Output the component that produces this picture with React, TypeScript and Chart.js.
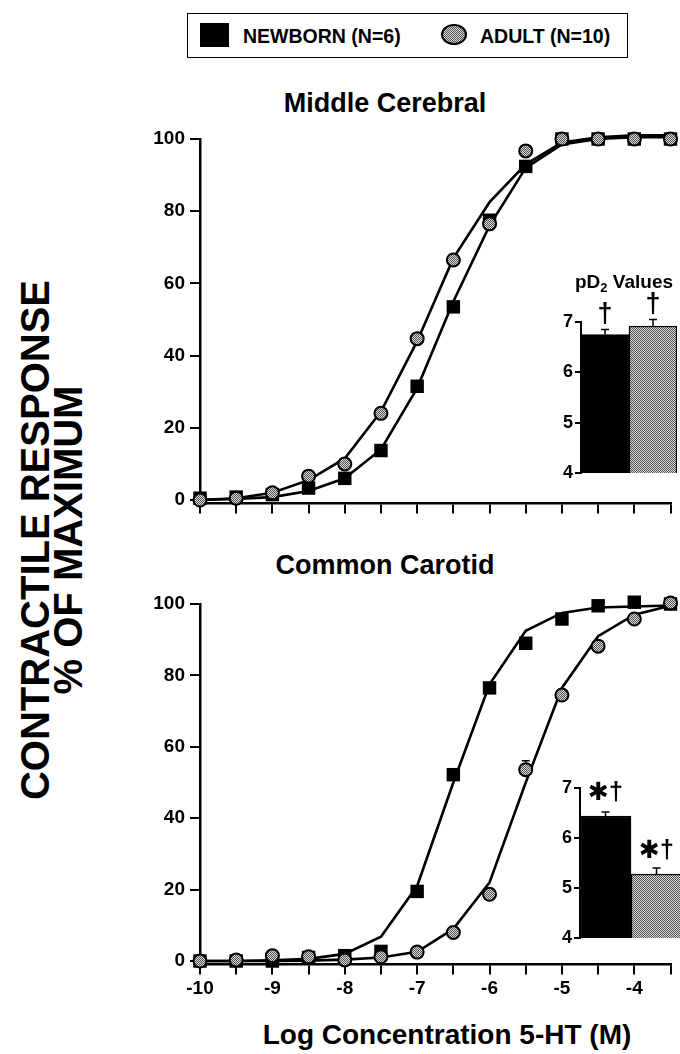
import React, { useEffect, useRef } from 'react';
import { Chart, registerables } from 'chart.js';

Chart.register(...registerables);

const FONT = '"Liberation Sans", Arial, Helvetica, sans-serif';

// ---- data ----
const concentrations = [-10, -9.5, -9, -8.5, -8, -7.5, -7, -6.5, -6, -5.5, -5, -4.5, -4, -3.5];
const xTickValues = [-10, -9.5, -9, -8.5, -8, -7.5, -7, -6.5, -6, -5.5, -5, -4.5, -4, -3.5];
const xTickLabels = ['-10', '', '-9', '', '-8', '', '-7', '', '-6', '', '-5', '', '-4', ''];
const yTickValues = [0, 20, 40, 60, 80, 100];
const pdTickValues = [4, 5, 6, 7];
const pdGroups = ['NEWBORN (N=6)', 'ADULT (N=10)'];

// Middle Cerebral
const mcNewborn = [0.5, 0.8, 1.5, 3.3, 6, 13.7, 31.5, 53.5, 77.5, 92.4, 100, 100, 100, 100];
const mcAdult = [0, 0.5, 2, 6.6, 10, 24, 44.7, 66.5, 76.5, 96.7, 100, 100, 100, 100];
const mcNewbornFit = [0, 0.3, 0.8, 2.5, 6, 14, 31, 55, 76, 92, 98.5, 100, 100.5, 100.5];
const mcAdultFit = [0, 0.5, 2, 5.5, 11.5, 24.5, 44, 67, 82.5, 93, 99, 100.5, 101, 101];
const mcAdultErr = [0, 0, 0, 0, 0, 0, 0, 0, 0, 0, 0, 0, 0, 0];
const mcPd2 = [6.75, 6.92];
const mcPd2Err = [0.1, 0.13];
const mcPd2Marks = ['\u2020', '\u2020'];

// Common Carotid
const ccNewborn = [0, 0, 0, 1, 1.5, 2.7, 19.5, 52.2, 76.5, 89, 95.8, 99.5, 100.5, 100];
const ccAdult = [0, 0.3, 1.5, 1.2, 0.3, 1.2, 2.5, 8, 18.7, 53.6, 74.5, 88.2, 95.8, 100.3];
const ccNewbornFit = [0, 0, 0.2, 0.6, 2, 6.8, 21, 50, 77.5, 92.5, 97.5, 99, 99.3, 99.6];
const ccAdultFit = [0, 0, 0, 0.1, 0.4, 1, 2.6, 9, 22, 50, 76.5, 91, 97, 99.5];
const ccAdultErr = [0, 0, 0, 0, 0, 0, 0, 0, 0, 2.5, 0, 0, 0, 0];
const ccPd2 = [6.44, 5.28];
const ccPd2Err = [0.08, 0.12];
const ccPd2Marks = ['\u2731\u2020', '\u2731\u2020'];

function makeDither(): CanvasPattern | string {
  const c = document.createElement('canvas');
  c.width = 2;
  c.height = 2;
  const g = c.getContext('2d');
  if (!g) return '#a0a0a0';
  g.fillStyle = '#dcdcdc';
  g.fillRect(0, 0, 2, 2);
  g.fillStyle = '#505050';
  g.fillRect(0, 0, 1, 1);
  g.fillRect(1, 1, 1, 1);
  return g.createPattern(c, 'repeat') || '#a0a0a0';
}

const pts = (vals: number[]) => concentrations.map((x, i) => ({ x, y: vals[i] }));

type Pad = { left: number; right: number; top: number; bottom: number };

function makeMain(
  canvas: HTMLCanvasElement,
  o: {
    newborn: number[];
    adult: number[];
    newbornFit: number[];
    adultFit: number[];
    adultErr: number[];
    showXLabels: boolean;
    xh: number;
    padding: Pad;
  },
  dither: CanvasPattern | string
) {
  const errPlugin = {
    id: 'ptErr',
    afterDatasetsDraw(chart: any) {
      const ctx = chart.ctx;
      const ys = chart.scales.y;
      const xs = chart.scales.x;
      ctx.save();
      ctx.strokeStyle = '#000';
      ctx.lineWidth = 1.5;
      o.adultErr.forEach((e, i) => {
        if (!e) return;
        const x = xs.getPixelForValue(concentrations[i]);
        const y0 = ys.getPixelForValue(o.adult[i]) - 7;
        const y1 = ys.getPixelForValue(o.adult[i] + e);
        ctx.beginPath();
        ctx.moveTo(x, y0);
        ctx.lineTo(x, y1);
        ctx.moveTo(x - 4, y1);
        ctx.lineTo(x + 4, y1);
        ctx.stroke();
      });
      ctx.restore();
    },
  };
  return new Chart(canvas, {
    type: 'line',
    data: {
      datasets: [
        {
          label: 'ADULT',
          data: pts(o.adult),
          showLine: false,
          pointStyle: 'circle',
          pointRadius: 6.5,
          pointBackgroundColor: dither as any,
          pointBorderColor: '#000',
          pointBorderWidth: 2,
          order: 0,
          clip: false as any,
        },
        {
          label: 'NEWBORN',
          data: pts(o.newborn),
          showLine: false,
          pointStyle: 'rect',
          pointRadius: 9.5,
          pointBackgroundColor: '#000',
          pointBorderColor: '#000',
          pointBorderWidth: 0,
          order: 1,
          clip: false as any,
        },
        {
          label: 'NEWBORN fit',
          data: pts(o.newbornFit),
          borderColor: '#000',
          borderWidth: 2.6,
          pointRadius: 0,
          tension: 0,
          order: 2,
          clip: false as any,
        },
        {
          label: 'ADULT fit',
          data: pts(o.adultFit),
          borderColor: '#000',
          borderWidth: 2.6,
          pointRadius: 0,
          tension: 0,
          order: 3,
          clip: false as any,
        },
      ],
    },
    options: {
      animation: false,
      responsive: false,
      devicePixelRatio: 1,
      events: [],
      layout: { padding: o.padding },
      plugins: { legend: { display: false }, tooltip: { enabled: false }, title: { display: false } },
      scales: {
        x: {
          type: 'linear',
          min: -10,
          max: -3.5,
          afterBuildTicks: (s: any) => {
            s.ticks = xTickValues.map((v) => ({ value: v }));
          },
          afterFit: (s: any) => {
            s.height = o.xh;
          },
          ticks: {
            autoSkip: false,
            maxRotation: 0,
            color: '#000',
            padding: 3,
            font: { family: FONT, size: 19, weight: 'bold' },
            callback: (_v: any, i: number) => (o.showXLabels ? xTickLabels[i] : ''),
          },
          grid: { drawOnChartArea: false, color: '#000', lineWidth: 2, tickLength: 10 },
          border: { display: true, color: '#000', width: 2.5 },
        },
        y: {
          type: 'linear',
          min: -1,
          max: 100,
          afterBuildTicks: (s: any) => {
            s.ticks = yTickValues.map((v) => ({ value: v }));
          },
          afterFit: (s: any) => {
            s.width = 60;
          },
          ticks: {
            color: '#000',
            padding: 5,
            font: { family: FONT, size: 19, weight: 'bold' },
          },
          grid: { drawOnChartArea: false, color: '#000', lineWidth: 2, tickLength: 10 },
          border: { display: true, color: '#000', width: 2.5 },
        },
      },
    } as any,
    plugins: [errPlugin],
  });
}

function makeInset(
  canvas: HTMLCanvasElement,
  o: { values: number[]; errs: number[]; marks: string[]; markOffset: number[]; markSize: number; padding: Pad },
  dither: CanvasPattern | string
) {
  const markPlugin = {
    id: 'pdMarks',
    afterDatasetsDraw(chart: any) {
      const ctx = chart.ctx;
      const ys = chart.scales.y;
      const meta = chart.getDatasetMeta(0);
      ctx.save();
      meta.data.forEach((el: any, i: number) => {
        const x = el.x;
        const yTop = ys.getPixelForValue(o.values[i]);
        const yErr = ys.getPixelForValue(o.values[i] + o.errs[i]);
        ctx.strokeStyle = '#000';
        ctx.lineWidth = 1.5;
        ctx.beginPath();
        ctx.moveTo(x, yTop);
        ctx.lineTo(x, yErr);
        ctx.moveTo(x - 4, yErr);
        ctx.lineTo(x + 4, yErr);
        ctx.stroke();
        ctx.fillStyle = '#000';
        ctx.textAlign = 'center';
        ctx.textBaseline = 'middle';
        ctx.font = `bold ${o.markSize}px ${FONT}, "DejaVu Sans"`;
        ctx.fillText(o.marks[i], x, yErr - o.markOffset[i]);
      });
      ctx.restore();
    },
  };
  return new Chart(canvas, {
    type: 'bar',
    data: {
      labels: pdGroups,
      datasets: [
        {
          data: o.values,
          backgroundColor: ['#000', dither as any],
          borderColor: '#000',
          borderWidth: 1.5,
          borderSkipped: false,
          categoryPercentage: 1,
          barPercentage: 1,
        },
      ],
    },
    options: {
      animation: false,
      responsive: false,
      devicePixelRatio: 1,
      events: [],
      layout: { padding: o.padding },
      plugins: { legend: { display: false }, tooltip: { enabled: false } },
      scales: {
        x: { display: false },
        y: {
          type: 'linear',
          min: 4,
          max: 7,
          afterBuildTicks: (s: any) => {
            s.ticks = pdTickValues.map((v) => ({ value: v }));
          },
          afterFit: (s: any) => {
            s.width = 30;
          },
          ticks: { color: '#000', padding: 2, font: { family: FONT, size: 18, weight: 'bold' } },
          grid: { drawOnChartArea: false, color: '#000', lineWidth: 2, tickLength: 6 },
          border: { display: true, color: '#000', width: 2 },
        },
      },
    } as any,
    plugins: [markPlugin],
  });
}

const abs = (left: number, top: number, extra: React.CSSProperties = {}): React.CSSProperties => ({
  position: 'absolute',
  left,
  top,
  ...extra,
});

export default function App() {
  const topRef = useRef<HTMLCanvasElement>(null);
  const botRef = useRef<HTMLCanvasElement>(null);
  const topInsetRef = useRef<HTMLCanvasElement>(null);
  const botInsetRef = useRef<HTMLCanvasElement>(null);

  useEffect(() => {
    const dither = makeDither();
    const charts: Chart[] = [];
    if (topRef.current)
      charts.push(
        makeMain(
          topRef.current,
          {
            newborn: mcNewborn,
            adult: mcAdult,
            newbornFit: mcNewbornFit,
            adultFit: mcAdultFit,
            adultErr: mcAdultErr,
            showXLabels: false,
            xh: 12,
            padding: { left: 140, right: 7, top: 29, bottom: 4.4 },
          },
          dither
        )
      );
    if (botRef.current)
      charts.push(
        makeMain(
          botRef.current,
          {
            newborn: ccNewborn,
            adult: ccAdult,
            newbornFit: ccNewbornFit,
            adultFit: ccAdultFit,
            adultErr: ccAdultErr,
            showXLabels: true,
            xh: 44,
            padding: { left: 140, right: 7, top: 24, bottom: 45.4 },
          },
          dither
        )
      );
    if (topInsetRef.current)
      charts.push(
        makeInset(
          topInsetRef.current,
          {
            values: mcPd2,
            errs: mcPd2Err,
            marks: mcPd2Marks,
            markOffset: [15, 15],
            markSize: 27,
            padding: { left: 31, right: 3, top: 72, bottom: 27 },
          },
          dither
        )
      );
    if (botInsetRef.current)
      charts.push(
        makeInset(
          botInsetRef.current,
          {
            values: ccPd2,
            errs: ccPd2Err,
            marks: ccPd2Marks,
            markOffset: [19, 17],
            markSize: 25,
            padding: { left: 30, right: 8, top: 58, bottom: 22 },
          },
          dither
        )
      );
    return () => charts.forEach((c) => c.destroy());
  }, []);

  const bold = (size: number): React.CSSProperties => ({
    fontFamily: FONT,
    fontWeight: 'bold',
    fontSize: size,
    color: '#000',
    whiteSpace: 'nowrap',
  });

  return (
    <div
      style={{
        position: 'absolute',
        left: 0,
        top: 0,
        width: 680,
        height: 1054,
        overflow: 'hidden',
        background: '#fff',
      }}
    >
      {/* legend */}
      <div
        style={abs(187, 13, {
          width: 441,
          height: 45,
          border: '1.5px solid #000',
          boxSizing: 'border-box',
        })}
      />
      <div style={abs(200, 23, { width: 29, height: 24, background: '#000' })} />
      <div style={abs(243, 23.5, { ...bold(19.5), lineHeight: '24px' })}>NEWBORN (N=6)</div>
      <div
        style={abs(441, 24, {
          width: 26,
          height: 21,
          borderRadius: '50%',
          boxSizing: 'border-box',
          border: '2px solid #000',
          backgroundImage: 'repeating-conic-gradient(#505050 0% 25%, #dcdcdc 0% 50%)',
          backgroundSize: '2px 2px',
        })}
      />
      <div style={abs(480, 23.5, { ...bold(19.5), lineHeight: '24px' })}>ADULT (N=10)</div>

      {/* titles */}
      <div style={abs(185, 86, { ...bold(27), width: 400, textAlign: 'center', lineHeight: '34px' })}>
        Middle Cerebral
      </div>
      <div style={abs(185, 548, { ...bold(27), width: 400, textAlign: 'center', lineHeight: '34px' })}>
        Common Carotid
      </div>

      {/* y axis title */}
      <div
        style={abs(52 - 350, 540 - 33, {
          ...bold(40),
          width: 700,
          height: 66,
          lineHeight: '33px',
          textAlign: 'center',
          transform: 'rotate(-90deg)',
          transformOrigin: '50% 50%',
        })}
      >
        CONTRACTILE RESPONSE
        <br />% OF MAXIMUM
      </div>

      {/* x axis title */}
      <div style={abs(447 - 250, 1018, { ...bold(28), width: 500, textAlign: 'center', lineHeight: '34px' })}>
        Log Concentration 5-HT (M)
      </div>

      {/* charts */}
      <canvas ref={topRef} width={680} height={410} style={abs(0, 110, { width: 680, height: 410 })} />
      <canvas ref={botRef} width={680} height={474} style={abs(0, 580, { width: 680, height: 474 })} />
      <canvas ref={topInsetRef} width={160} height={250} style={abs(520, 250, { width: 160, height: 250 })} />
      <canvas ref={botInsetRef} width={170} height={230} style={abs(520, 730, { width: 170, height: 230 })} />

      {/* inset label */}
      <div style={abs(575, 270, { ...bold(19), lineHeight: '24px' })}>
        pD<sub style={{ fontSize: 13, verticalAlign: '-4px', lineHeight: 0 }}>2</sub> Values
      </div>
    </div>
  );
}
